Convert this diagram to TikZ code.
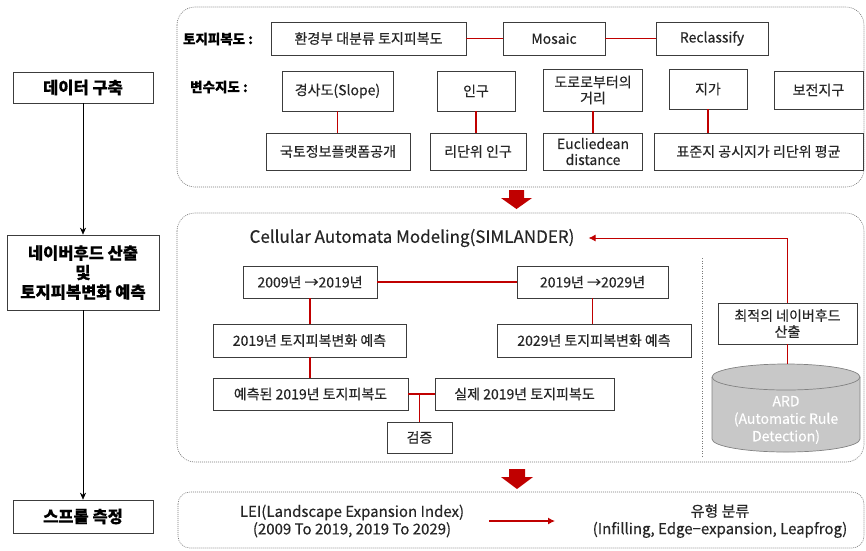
\documentclass[tikz,border=0pt]{standalone}
\usepackage{fontspec}
\setmainfont{Noto Sans CJK KR}[FakeBold=0.35]
\usetikzlibrary{arrows.meta}
\definecolor{rd}{RGB}{192,0,0}
\definecolor{bd}{RGB}{60,60,60}
\definecolor{pn}{RGB}{120,120,120}
\definecolor{cylf}{RGB}{200,200,200}
\definecolor{cylb}{RGB}{130,130,130}
\begin{document}
\begin{tikzpicture}[x=1pt,y=-1pt,
  bx/.style={draw=bd, line width=0.7pt, fill=white, inner sep=0pt, align=center, text=black!85, font=\fontsize{14}{16}\selectfont},
  lbx/.style={draw=bd, line width=0.7pt, fill=white, inner sep=0pt, align=center, font=\fontsize{16.5}{19.5}\selectfont\bfseries},
  lab/.style={inner sep=0pt, font=\fontsize{13.5}{15}\selectfont\bfseries},
  rl/.style={draw=rd, line width=1.6pt},
  thinred/.style={draw=rd, line width=0.8pt},
  panel/.style={draw=pn, line width=0.6pt, dash pattern=on 1pt off 1pt},
  larr/.style={draw=black, line width=0.6pt, -{Stealth[length=7pt,width=6pt]}}
]
\useasboundingbox (0,0) rectangle (866,550);

% ---- left column
\node[lbx, minimum width=140pt, minimum height=31pt] (L1) at (83,87.5) {데이터 구축};
\node[lbx, minimum width=152pt, minimum height=75pt] (L2) at (83,272.5) {네이버후드 산출\\및\\토지피복변화 예측};
\node[lbx, minimum width=140pt, minimum height=33pt] (L3) at (83,516.5) {스프롤 측정};
\draw[larr] (L1.south) -- (L2.north);
\draw[larr] (L2.south) -- (L3.north);

% ---- panel 1
\draw[panel, rounded corners=18pt] (177,7) rectangle (864,187);
\node[lab] (lt) at (218,39) {토지피복도 :};
\node[lab] (lv) at (219,87) {변수지도 :};
\node[bx, minimum width=195pt, minimum height=33pt] (t1) at (368.5,38.5) {환경부 대분류 토지피복도};
\node[bx, minimum width=102pt, minimum height=33pt] (t2) at (554,38.5) {Mosaic};
\node[bx, minimum width=112pt, minimum height=33pt] (t3) at (712,38.5) {Reclassify};
\draw[rl] (t1.east) -- (t2.west);
\draw[rl] (t2.east) -- (t3.west);

\node[bx, minimum width=111pt, minimum height=40pt] (v1) at (337.5,91) {경사도(Slope)};
\node[bx, minimum width=78pt, minimum height=40pt] (v2) at (476,91) {인구};
\node[bx, minimum width=99pt, minimum height=42pt] (v3) at (593,90) {도로로부터의\\거리};
\node[bx, minimum width=78pt, minimum height=40pt] (v4) at (708,89) {지가};
\node[bx, minimum width=89pt, minimum height=38pt] (v5) at (818.5,90) {보전지구};

\node[bx, minimum width=144pt, minimum height=37pt] (b1) at (338,151.5) {국토정보플랫폼공개};
\node[bx, minimum width=96pt, minimum height=37pt] (b2) at (478,151.5) {리단위 인구};
\node[bx, minimum width=99pt, minimum height=37pt] (b3) at (593,151.5) {Eucliedean\\distance};
\node[bx, minimum width=209pt, minimum height=37pt] (b4) at (758.5,151.5) {표준지 공시지가 리단위 평균};
\draw[rl] (v1.south) -- (v1.south |- b1.north);
\draw[rl] (v2.south) -- (v2.south |- b2.north);
\draw[rl] (v3.south) -- (v3.south |- b3.north);
\draw[rl] (v4.south) -- (v4.south |- b4.north);

% ---- block arrow 1
\fill[rd] (509,190) -- (524,190) -- (524,198) -- (532,198) -- (516.5,209) -- (501,198) -- (509,198) -- cycle;

% ---- panel 2
\draw[panel, rounded corners=18pt] (177,213) rectangle (864,462);
\node[inner sep=0pt, text=black!85, font=\fontsize{17}{19}\selectfont] (ca) at (412,238) {Cellular Automata Modeling(SIMLANDER)};

\node[bx, minimum width=134pt, minimum height=32pt] (m1) at (310,282) {2009년 →2019년};
\node[bx, minimum width=151pt, minimum height=32pt] (m2) at (592.5,282) {2019년 →2029년};
\node[bx, minimum width=193pt, minimum height=33pt] (m3) at (309.5,340.5) {2019년 토지피복변화 예측};
\node[bx, minimum width=194pt, minimum height=33pt] (m4) at (594,340.5) {2029년 토지피복변화 예측};
\node[bx, minimum width=195pt, minimum height=32pt] (m5) at (310.5,394) {예측된 2019년 토지피복도};
\node[bx, minimum width=179pt, minimum height=32pt] (m6) at (524.5,394) {실제 2019년 토지피복도};
\node[bx, minimum width=65pt, minimum height=31pt] (m7) at (419.5,437.5) {검증};
\draw[rl] (m1.east) -- (m2.west);
\draw[rl] (m1.south) -- (m1.south |- m3.north);
\draw[rl] (m2.south) -- (m2.south |- m4.north);
\draw[rl] (m1.south |- m3.south) -- (m1.south |- m5.north);
\draw[rl] (m5.east) -- (m6.west);
\draw[rl] (m7.north |- m5.east) -- (m7.north);

% dotted separator
\draw[draw=pn, line width=0.8pt, dash pattern=on 1pt off 1.5pt] (702,258) -- (702,457);

% optimal neighbourhood and ARD cylinder
\node[bx, minimum width=139pt, minimum height=41pt] (opt) at (787.5,323.5) {최적의 네이버후드\\산출};
\fill[cylf] (712,377) -- (712,439) arc[start angle=180, end angle=0, x radius=74, y radius=13] -- (860,377) arc[start angle=0, end angle=-180, x radius=74, y radius=13] -- cycle;
\draw[cylb, line width=0.7pt] (712,377) -- (712,439) arc[start angle=180, end angle=0, x radius=74, y radius=13] -- (860,377);
\draw[cylb, line width=0.7pt] (786,377) ellipse [x radius=74, y radius=13];
\coordinate (cyltop) at (787.5,364);
\node[inner sep=0pt, align=center, text=white, font=\fontsize{14}{17.5}\selectfont] (ard) at (786,420) {ARD\\(Automatic Rule\\Detection)};
\draw[thinred] (opt.south) -- (cyltop);
\draw[thinred, -{Latex[length=7pt,width=7pt]}] (opt.north) |- ([xshift=14pt]ca.east);

% ---- block arrow 2
\fill[rd] (509,469) -- (525,469) -- (525,477) -- (533,477) -- (517,489) -- (501,477) -- (509,477) -- cycle;

% ---- panel 3
\draw[panel, rounded corners=12pt] (178,492) rectangle (864,548);
\node[inner sep=0pt, align=center, text=black!85, font=\fontsize{15}{17.5}\selectfont] (lei) at (352,521) {LEI(Landscape Expansion Index)\\(2009 To 2019, 2019 To 2029)};
\node[inner sep=0pt, align=center, text=black!85, font=\fontsize{15}{17.5}\selectfont] (typ) at (720,521) {유형 분류\\(Infilling, Edge−expansion, Leapfrog)};
\draw[draw=rd, line width=1.2pt, -{Latex[length=7pt,width=7pt]}] (489,521) -- (555,521);
\end{tikzpicture}
\end{document}
